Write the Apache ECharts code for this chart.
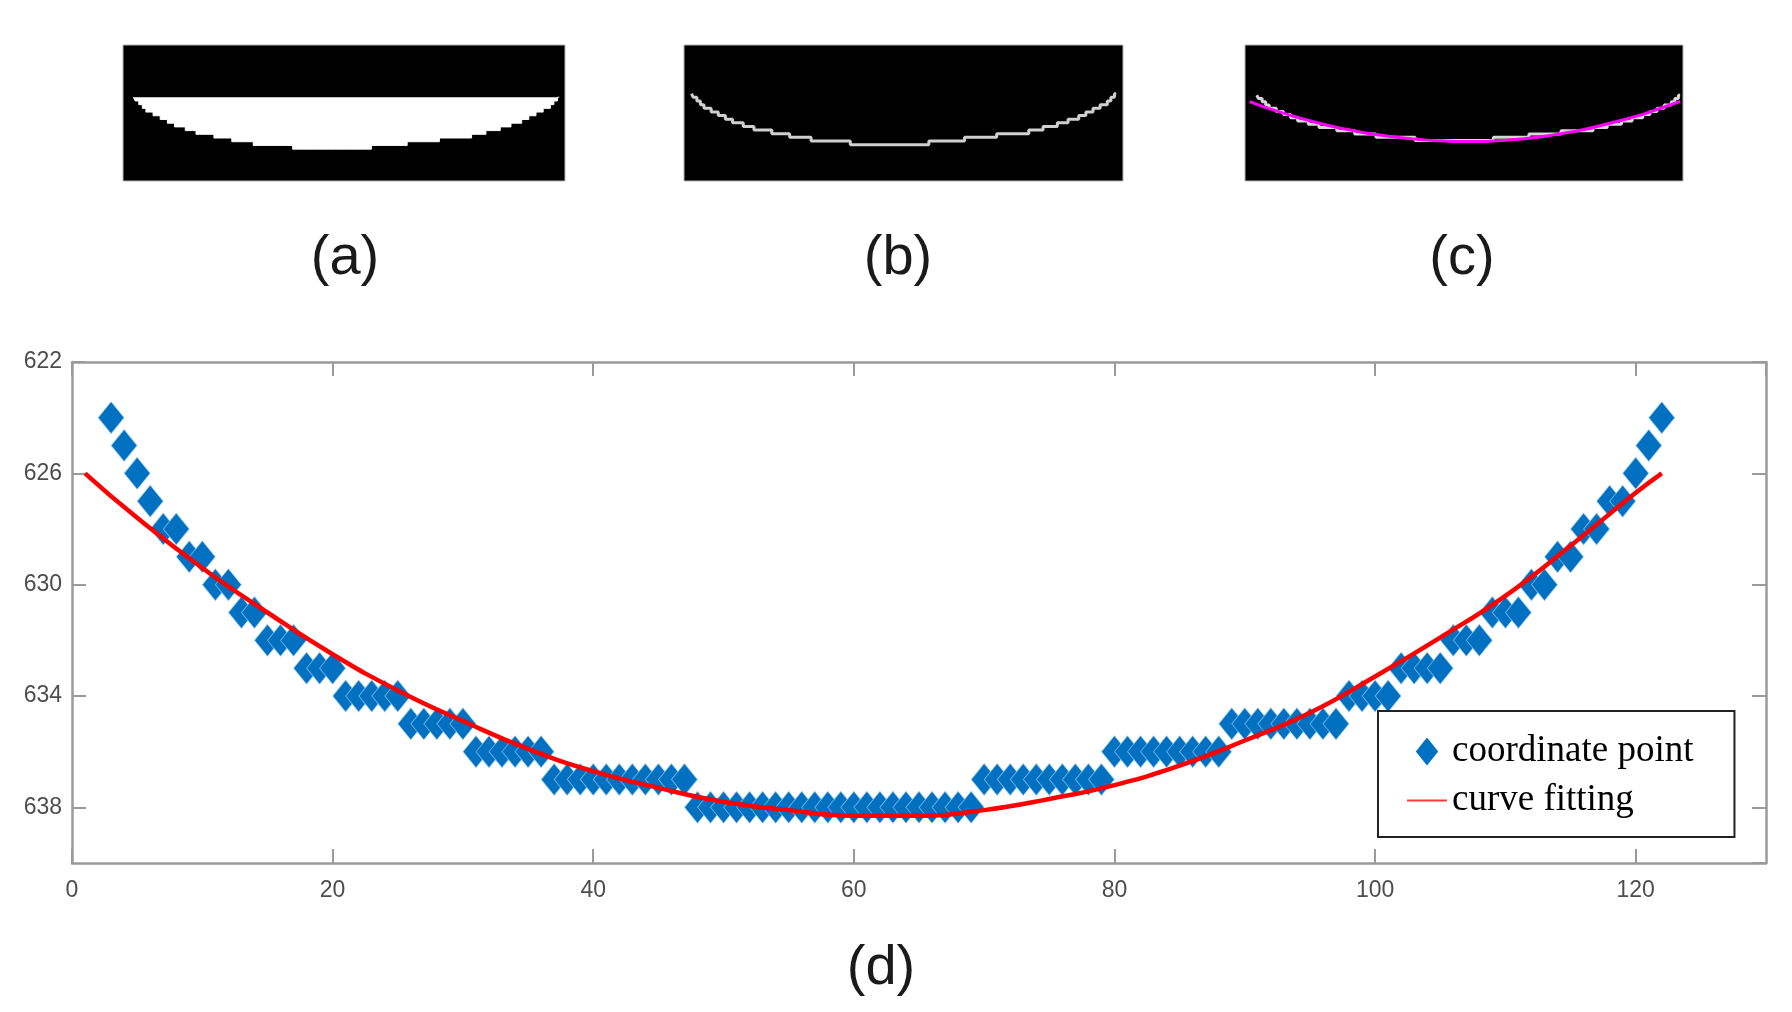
<!DOCTYPE html>
<html>
<head>
<meta charset="utf-8">
<title>edge fitting</title>
<script src="https://cdn.jsdelivr.net/npm/echarts@6.0.0/dist/echarts.min.js"></script>
<style>
  html, body { margin: 0; padding: 0; background: #fff; }
  #main { width: 1792px; height: 1012px; }
</style>
</head>
<body>
<div id="main"></div>
<script>
// edge pixels (column, row)
const pointX = [
  3, 4, 5, 6, 7, 8, 9, 10, 11, 12, 13, 14, 15, 16, 17, 18, 19, 20,
  21, 22, 23, 24, 25, 26, 27, 28, 29, 30, 31, 32, 33, 34, 35, 36,
  37, 38, 39, 40, 41, 42, 43, 44, 45, 46, 47,
  48, 49, 50, 51, 52, 53, 54, 55, 56, 57, 58, 59, 60, 61, 62, 63, 64, 65, 66, 67, 68, 69,
  70, 71, 72, 73, 74, 75, 76, 77, 78, 79,
  80, 81, 82, 83, 84, 85, 86, 87, 88,
  89, 90, 91, 92, 93, 94, 95, 96, 97,
  98, 99, 100, 101, 102, 103, 104, 105, 106, 107, 108, 109, 110, 111,
  112, 113, 114, 115, 116, 117, 118, 119, 120, 121, 122
];
const pointY = [
  624, 625, 626, 627, 628, 628, 629, 629, 630, 630, 631, 631, 632, 632, 632, 633, 633, 633,
  634, 634, 634, 634, 634, 635, 635, 635, 635, 635, 636, 636, 636, 636, 636, 636,
  637, 637, 637, 637, 637, 637, 637, 637, 637, 637, 637,
  638, 638, 638, 638, 638, 638, 638, 638, 638, 638, 638, 638, 638, 638, 638, 638, 638, 638, 638, 638, 638, 638,
  637, 637, 637, 637, 637, 637, 637, 637, 637, 637,
  636, 636, 636, 636, 636, 636, 636, 636, 636,
  635, 635, 635, 635, 635, 635, 635, 635, 635,
  634, 634, 634, 634, 633, 633, 633, 633, 632, 632, 632, 631, 631, 631,
  630, 630, 629, 629, 628, 628, 627, 627, 626, 625, 624
];

// fitted curve
const fitX = [1, 5, 10, 15, 20, 25, 30, 35, 40, 45, 50, 55, 60, 65, 70, 75, 80, 85, 90, 95, 100, 105, 110, 115, 120, 122];
const fitY = [626.0, 627.6, 629.4, 631.0, 632.5, 633.8, 634.9, 635.9, 636.7, 637.3, 637.8, 638.1, 638.3,
  638.3, 638.1, 637.7, 637.2, 636.5, 635.6, 634.6, 633.3, 631.9, 630.4, 628.6, 626.7, 626.0];

const xTicks = { min: 0, max: 130, interval: 20 };
const yTicks = { min: 622, max: 640, interval: 4 };

const points = pointX.map((x, i) => [x, pointY[i]]);
const fit = fitX.map((x, i) => [x, fitY[i]]);

const axisGray = '#9a9a9a';
const labelFont = { fontFamily: 'Liberation Sans', fontSize: 23, color: '#4d4d4d' };
const capFont = { fontFamily: 'Liberation Sans', fontSize: 56, fontWeight: 'normal', color: '#1a1a1a' };

function frameAxis(extra) {
  return Object.assign({
    gridIndex: 0,
    axisLine: { show: true, onZero: false, lineStyle: { color: axisGray, width: 2.5 } },
    axisTick: { show: true, inside: true, length: 14, lineStyle: { color: axisGray, width: 2 } },
    splitLine: { show: false },
  }, extra);
}
function hiddenAxis(gridIndex, min, max, inverse) {
  return { gridIndex, min, max, inverse: !!inverse, show: false, splitLine: { show: false } };
}
const panel = (left, width) => ({
  left, top: 45, width, height: 136, show: true,
  backgroundColor: '#000', borderColor: '#b5b5b5', borderWidth: 1
});

const chart = echarts.init(document.getElementById('main'));
chart.setOption({
  backgroundColor: '#fff',
  animation: false,
  title: [
    { text: '(a)', left: 340, top: 226, textAlign: 'center', textStyle: capFont },
    { text: '(b)', left: 893, top: 226, textAlign: 'center', textStyle: capFont },
    { text: '(c)', left: 1457, top: 226, textAlign: 'center', textStyle: capFont },
    { text: '(d)', left: 876, top: 936, textAlign: 'center', textStyle: capFont },
  ],
  grid: [
    { left: 72, top: 362, width: 1694, height: 501 },
    panel(123, 442),
    panel(684, 439),
    panel(1245, 438),
  ],
  xAxis: [
    frameAxis({ type: 'value', position: 'bottom', ...xTicks,
      axisLabel: { ...labelFont, margin: 16, showMaxLabel: false } }),
    frameAxis({ type: 'value', position: 'top', ...xTicks, axisLabel: { show: false } }),
    hiddenAxis(1, 0.1, 123.6),
    hiddenAxis(2, 0.9, 123.9),
    hiddenAxis(3, -0.3, 122.8),
  ],
  yAxis: [
    frameAxis({ type: 'value', position: 'left', inverse: true, ...yTicks,
      axisLabel: { ...labelFont, margin: 10, showMaxLabel: false } }),
    frameAxis({ type: 'value', position: 'right', inverse: true, ...yTicks, axisLabel: { show: false } }),
    hiddenAxis(1, 609.9, 646.6, true),
    hiddenAxis(2, 610.6, 648, true),
    hiddenAxis(3, 608.5, 650.5, true),
  ],
  legend: {
    data: [
      { name: 'coordinate point', icon: 'path://M12,0 L24,15 L12,30 L0,15 Z',
        itemStyle: { color: '#0070c0', borderWidth: 0, opacity: 1 } },
      { name: 'curve fitting', icon: 'path://M0,0 H40 V2 H0 Z',
        itemStyle: { color: '#ff3b3b', borderWidth: 0 } },
    ],
    orient: 'vertical',
    left: 1378,
    top: 711,
    padding: [22, 41, 18, 29],
    itemWidth: 40,
    itemHeight: 28,
    itemGap: 12,
    symbolKeepAspect: true,
    backgroundColor: '#fff',
    borderColor: '#222',
    borderWidth: 2,
    borderRadius: 0,
    textStyle: { fontFamily: 'Liberation Serif', fontSize: 37, color: '#000' },
  },
  series: [
    {
      name: 'coordinate point',
      type: 'scatter',
      xAxisIndex: 0, yAxisIndex: 0,
      symbol: 'diamond',
      symbolSize: [26, 32],
      itemStyle: { color: '#0070c0', opacity: 1, borderColor: 'rgba(170,210,245,0.6)', borderWidth: 1 },
      data: points,
      z: 2,
    },
    {
      name: 'curve fitting',
      type: 'line',
      xAxisIndex: 0, yAxisIndex: 0,
      smooth: true,
      symbol: 'none',
      itemStyle: { color: '#ff0000' },
      lineStyle: { color: '#ff0000', width: 4.5 },
      data: fit,
      z: 3,
    },
    // (a) segmented region
    {
      type: 'line',
      xAxisIndex: 2, yAxisIndex: 2,
      step: 'middle',
      symbol: 'none',
      lineStyle: { color: '#fff', width: 1 },
      areaStyle: { color: '#fff', opacity: 1, origin: 624 },
      data: points,
      silent: true,
    },
    // (b) extracted edge
    {
      type: 'line',
      xAxisIndex: 3, yAxisIndex: 3,
      step: 'middle',
      symbol: 'none',
      lineStyle: { color: '#cfcfcf', width: 3 },
      data: points,
      silent: true,
    },
    // (c) edge with fitted curve on top
    {
      type: 'line',
      xAxisIndex: 4, yAxisIndex: 4,
      step: 'middle',
      symbol: 'none',
      lineStyle: { color: '#d8d8d8', width: 3 },
      data: points,
      silent: true,
    },
    {
      type: 'line',
      xAxisIndex: 4, yAxisIndex: 4,
      smooth: true,
      symbol: 'none',
      lineStyle: { color: '#ff00ff', width: 3 },
      data: fit,
      silent: true,
    },
  ],
});
</script>
</body>
</html>
